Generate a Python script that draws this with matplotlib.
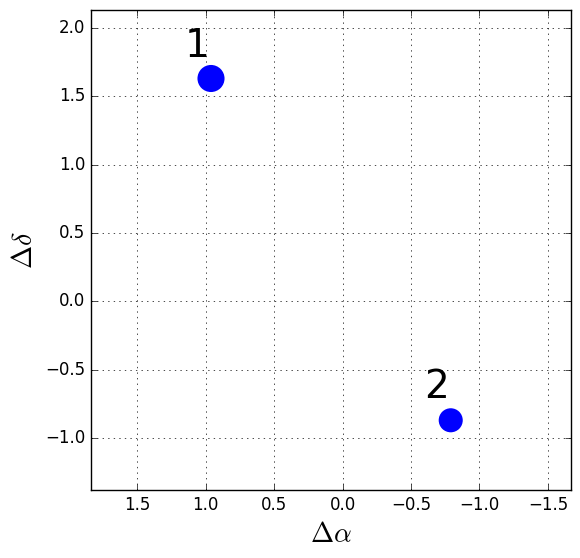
import matplotlib
matplotlib.use("Agg")
import matplotlib.pyplot as plt

plt.style.use("classic")

labels = ["1", "2"]
dra = [0.96, -0.79]
ddec = [1.63, -0.87]
sizes = [380, 300]

fig = plt.figure(figsize=(5.8, 5.58), dpi=100)
ax = fig.add_axes([91/580, 1-490/558, 480/580, 480/558])
ax.scatter(dra, ddec, s=sizes, c="blue", edgecolors="none", zorder=3)
for lab, x, y in zip(labels, dra, ddec):
    ax.annotate(lab, (x, y), xytext=(-1, 10), textcoords="offset points",
                ha="right", va="bottom", fontsize=28)
ax.set_xlim(1.836, -1.668)
ax.set_ylim(-1.38, 2.131)
ax.set_xticks([1.5, 1.0, 0.5, 0.0, -0.5, -1.0, -1.5])
ax.set_yticks([-1.0, -0.5, 0.0, 0.5, 1.0, 1.5, 2.0])
ax.grid(True)
ax.set_xlabel(r"$\Delta\alpha$", fontsize=20)
ax.set_ylabel(r"$\Delta\delta$", fontsize=20)
ax.tick_params(labelsize=12)
fig.savefig("out.png", dpi=100)
